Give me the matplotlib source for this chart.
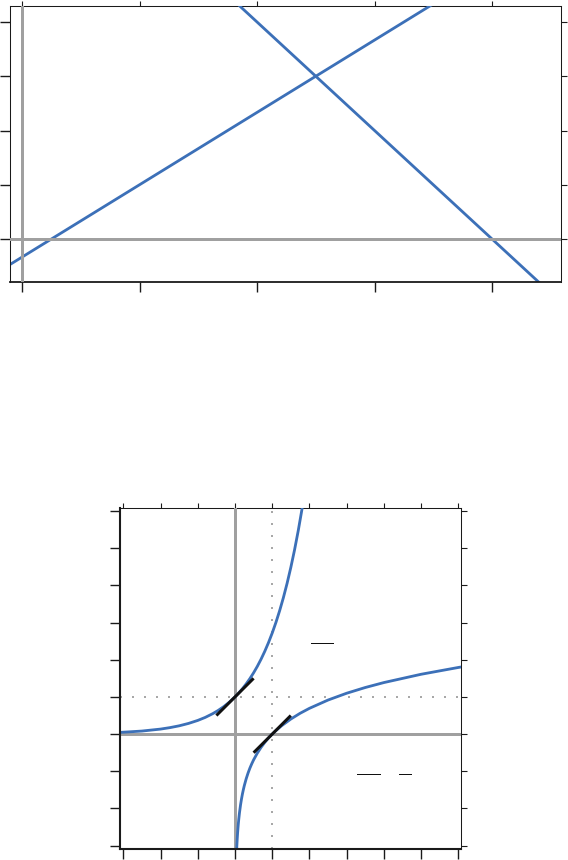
import matplotlib
matplotlib.use("Agg")
import matplotlib.pyplot as plt

# ---------------- data ----------------
# top panel: two straight lines (endpoints)
top_xticks = [0, 1, 2, 3, 4]
top_yticks = [0, 1, 2, 3, 4]
top_xlim = (-0.1, 4.587)
top_ylim = (-0.787, 4.295)
line_up_x = [-0.2, 3.6]
line_up_y = [-0.6, 4.467]
line_down_x = [1.8, 4.45]
line_down_y = [4.4, -0.9]

# bottom panel: y = e^x and y = ln x with tangents
bot_xticks = [-3, -2, -1, 0, 1, 2, 3, 4, 5, 6]
bot_yticks = [-3, -2, -1, 0, 1, 2, 3, 4, 5, 6]
bot_xlim = (-3.09, 6.073)
bot_ylim = (-3.09, 6.089)
exp_x = [-3.1, -2.5, -2.0, -1.75, -1.5, -1.25, -1.0, -0.8, -0.6, -0.45, -0.3,
         -0.15, 0.0, 0.1, 0.2, 0.3, 0.4, 0.5, 0.6, 0.7, 0.8, 0.9, 1.0, 1.1,
         1.2, 1.3, 1.4, 1.5, 1.6, 1.7, 1.8, 1.85]
exp_y = [0.045, 0.082, 0.135, 0.174, 0.223, 0.287, 0.368, 0.449, 0.549, 0.638,
         0.741, 0.861, 1.0, 1.105, 1.221, 1.350, 1.492, 1.649, 1.822, 2.014,
         2.226, 2.460, 2.718, 3.004, 3.320, 3.669, 4.055, 4.482, 4.953, 5.474,
         6.050, 6.360]
ln_x = [0.04, 0.05, 0.06, 0.07, 0.08, 0.09, 0.1, 0.12, 0.15, 0.175, 0.2,
        0.225, 0.25, 0.3, 0.35, 0.4, 0.45, 0.5, 0.6, 0.7, 0.8, 0.9, 1.0, 1.1,
        1.25, 1.5, 1.75, 2.0, 2.5, 3.0, 3.5, 4.0, 5.0, 6.0, 6.2]
ln_y = [-3.219, -2.996, -2.813, -2.659, -2.526, -2.408, -2.303, -2.120,
        -1.897, -1.743, -1.609, -1.492, -1.386, -1.204, -1.050, -0.916,
        -0.799, -0.693, -0.511, -0.357, -0.223, -0.105, 0.0, 0.095, 0.223,
        0.405, 0.560, 0.693, 0.916, 1.099, 1.253, 1.386, 1.609, 1.792, 1.825]
tan1_x = [-0.5, 0.5]
tan1_y = [0.5, 1.5]
tan2_x = [0.5, 1.5]
tan2_y = [-0.5, 0.5]
asym_x = 1
asym_y = 1
# fraction bars of the (glyph-less) labels
bars_x = [[2.03, 2.63], [3.29, 3.90], [4.41, 4.73]]
bars_y = [2.44, -1.06, -1.06]

# ---------------- style ----------------
BLUE = "#3c70b8"
GRAY = "#a0a0a0"
DOT = "#a8a8a8"
INK = "#1a1a1a"
PX = 0.72  # points per pixel at dpi 100

W, H = 568, 860
fig = plt.figure(figsize=(W / 100, H / 100), dpi=100)


def style_axes(ax, xticks, yticks, xlim, ylim, lw_left, lw_bottom):
    ax.set_xlim(*xlim)
    ax.set_ylim(*ylim)
    ax.set_xticks(xticks)
    ax.set_yticks(yticks)
    ax.tick_params(axis="both", direction="out", length=10 * PX, width=1.0,
                   color=INK, labelbottom=False, labelleft=False,
                   top=False, right=False)
    ax.spines["left"].set_linewidth(lw_left)
    ax.spines["bottom"].set_linewidth(lw_bottom)
    for s in ("left", "bottom"):
        ax.spines[s].set_color(INK)
    ax.spines["top"].set_visible(False)
    ax.spines["right"].set_visible(False)
    sx = ax.secondary_xaxis("top")
    sx.set_xticks(xticks)
    sx.tick_params(direction="out", length=5 * PX, width=0.8, color=INK,
                   labeltop=False)
    sx.spines["top"].set_linewidth(0.75)
    sx.spines["top"].set_color(INK)
    sy = ax.secondary_yaxis("right")
    sy.set_yticks(yticks)
    sy.tick_params(direction="out", length=5.5 * PX, width=0.8, color=INK,
                   labelright=False)
    sy.spines["right"].set_linewidth(0.75)
    sy.spines["right"].set_color(INK)


# ---------------- top panel ----------------
ax1 = fig.add_axes([10.3 / W, 1 - 281.7 / H, (561 - 10.3) / W, (281.7 - 6) / H])
style_axes(ax1, top_xticks, top_yticks, top_xlim, top_ylim, 0.75, 1.3)
ax1.plot(line_up_x, line_up_y, color=BLUE, lw=2.8 * PX, zorder=2,
         solid_capstyle="butt")
ax1.plot(line_down_x, line_down_y, color=BLUE, lw=2.8 * PX, zorder=2,
         solid_capstyle="butt")
ax1.axhline(0, color=GRAY, lw=3 * PX, zorder=3)
ax1.axvline(0, color=GRAY, lw=3 * PX, zorder=3)

# ---------------- bottom panel ----------------
ax2 = fig.add_axes([120 / W, 1 - 849 / H, 341 / W, (849 - 507.7) / H])
style_axes(ax2, bot_xticks, bot_yticks, bot_xlim, bot_ylim, 1.5, 1.5)
ax2.axhline(0, color=GRAY, lw=3 * PX, zorder=1)
ax2.axvline(0, color=GRAY, lw=3 * PX, zorder=1)
ax2.axhline(asym_y, color=DOT, lw=2 * PX, ls=(0, (1, 5)), zorder=1.5)
ax2.axvline(asym_x, color=DOT, lw=2 * PX, ls=(0, (1, 5)), zorder=1.5)
ax2.plot(exp_x, exp_y, color=BLUE, lw=2.8 * PX, zorder=2,
         solid_joinstyle="round")
ax2.plot(ln_x, ln_y, color=BLUE, lw=2.8 * PX, zorder=2,
         solid_joinstyle="round")
ax2.plot(tan1_x, tan1_y, color="#111111", lw=3 * PX, zorder=3,
         solid_capstyle="butt")
ax2.plot(tan2_x, tan2_y, color="#111111", lw=3 * PX, zorder=3,
         solid_capstyle="butt")
for bx, by in zip(bars_x, bars_y):
    ax2.plot(bx, [by, by], color="#111111", lw=1.0 * PX, zorder=3)

fig.savefig("out.png", dpi=100)
